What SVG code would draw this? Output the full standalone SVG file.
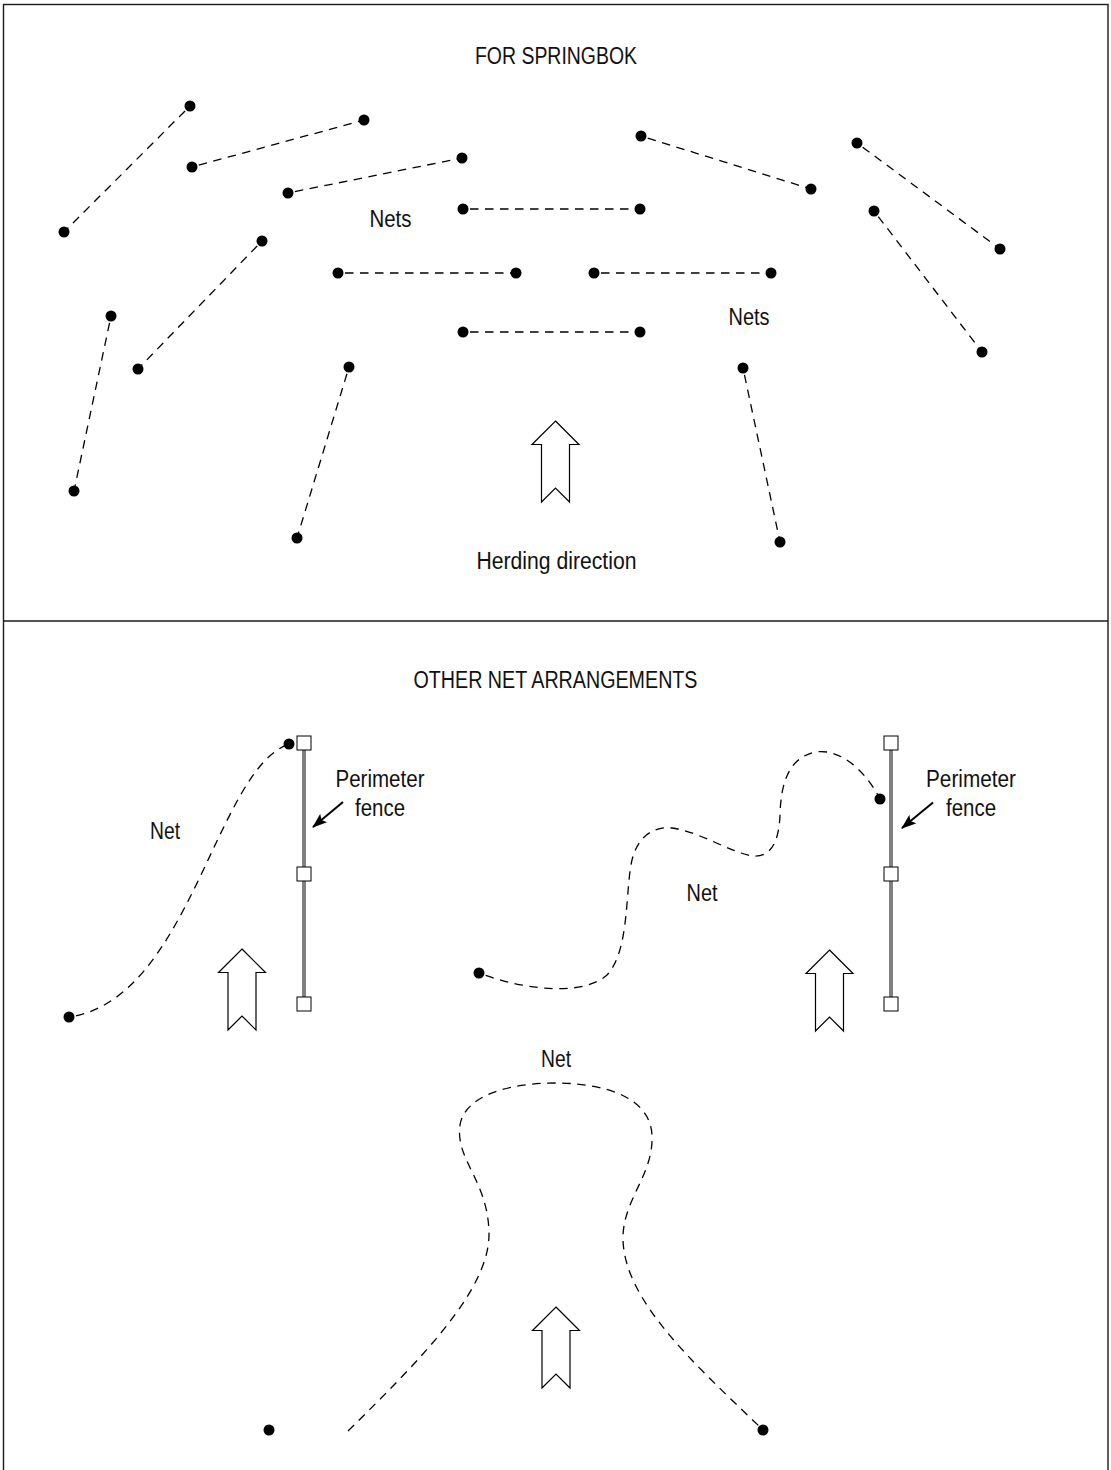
<svg xmlns="http://www.w3.org/2000/svg" width="1111" height="1470" viewBox="0 0 1111 1470">
<style>
.frame{fill:none;stroke:#1a1a1a;stroke-width:1.4}
.net{fill:none;stroke:#000;stroke-width:1.3;stroke-dasharray:8.5 6.5;stroke-dashoffset:-7}
.dot{fill:#000}
.lbl{font-family:"Liberation Sans Narrow","Liberation Sans",Arial,sans-serif;font-size:23px;fill:#111;text-anchor:middle}
.herd{fill:#fff;stroke:#000;stroke-width:1.2;stroke-linejoin:miter}
.fence{stroke:#808080;stroke-width:4}
.post{fill:#fff;stroke:#000;stroke-width:1}
.ptr{stroke:#000;stroke-width:2;fill:none}
</style>
<defs>
<path id="herdArrow" class="herd" d="M0,0 L23.5,23.5 L14,23.5 L14,81 L0,67 L-14,81 L-14,23.5 L-23.5,23.5 Z"/>
<marker id="ahBig" viewBox="0 0 15 11" refX="14" refY="5.5" markerWidth="15" markerHeight="11" orient="auto" markerUnits="userSpaceOnUse">
<path d="M0,0 L15,5.5 L0,11 L3,5.5 Z" fill="#000"/>
</marker>
</defs>

<rect id="frame" class="frame" x="3.5" y="4.5" width="1104.5" height="1475"/>
<line id="divider" class="frame" x1="3.5" y1="621" x2="1108" y2="621"/>

<g id="connectors">
<line class="net" x1="190" y1="106" x2="64" y2="232"/>
<line class="net" x1="192" y1="167" x2="364" y2="120"/>
<line class="net" x1="288" y1="193" x2="462" y2="158"/>
<line class="net" x1="463" y1="209" x2="640" y2="209"/>
<line class="net" x1="338" y1="273" x2="516" y2="273"/>
<line class="net" x1="594" y1="273" x2="771" y2="273"/>
<line class="net" x1="463" y1="332" x2="640" y2="332"/>
<line class="net" x1="262" y1="241" x2="138" y2="369"/>
<line class="net" x1="111" y1="316" x2="74" y2="491"/>
<line class="net" x1="349" y1="367" x2="297" y2="538"/>
<line class="net" x1="641" y1="136" x2="811" y2="189"/>
<line class="net" x1="857" y1="143" x2="1000" y2="249"/>
<line class="net" x1="874" y1="211" x2="982" y2="352"/>
<line class="net" x1="743" y1="368" x2="780" y2="542"/>
<path class="net" d="M69,1017 C190,1000 215,770 289,744"/>
<path class="net" d="M479,973 C530,992 585,995 607,975 C630,950 625,890 632,860 C638,835 655,826 672,828 C700,832 730,852 752,856 C772,858 779,840 780,815 C781,780 790,758 815,752 C840,748 865,770 880,799"/>
<path class="net" d="M348,1431 C420,1360 490,1290 489,1233 C488,1180 455,1160 460,1125 C465,1095 510,1083 555,1083 C600,1083 650,1095 652,1135 C654,1175 622,1200 623,1240 C625,1300 690,1360 760,1427" style="stroke-dashoffset:0"/>
<line class="ptr" x1="343" y1="802" x2="313" y2="827" marker-end="url(#ahBig)"/>
<line class="ptr" x1="933" y1="802.5" x2="902" y2="828" marker-end="url(#ahBig)"/>
</g>

<g id="dots">
<circle class="dot" cx="190" cy="106" r="5.5"/>
<circle class="dot" cx="64" cy="232" r="5.5"/>
<circle class="dot" cx="192" cy="167" r="5.5"/>
<circle class="dot" cx="364" cy="120" r="5.5"/>
<circle class="dot" cx="288" cy="193" r="5.5"/>
<circle class="dot" cx="462" cy="158" r="5.5"/>
<circle class="dot" cx="463" cy="209" r="5.5"/>
<circle class="dot" cx="640" cy="209" r="5.5"/>
<circle class="dot" cx="338" cy="273" r="5.5"/>
<circle class="dot" cx="516" cy="273" r="5.5"/>
<circle class="dot" cx="594" cy="273" r="5.5"/>
<circle class="dot" cx="771" cy="273" r="5.5"/>
<circle class="dot" cx="463" cy="332" r="5.5"/>
<circle class="dot" cx="640" cy="332" r="5.5"/>
<circle class="dot" cx="262" cy="241" r="5.5"/>
<circle class="dot" cx="138" cy="369" r="5.5"/>
<circle class="dot" cx="111" cy="316" r="5.5"/>
<circle class="dot" cx="74" cy="491" r="5.5"/>
<circle class="dot" cx="349" cy="367" r="5.5"/>
<circle class="dot" cx="297" cy="538" r="5.5"/>
<circle class="dot" cx="641" cy="136" r="5.5"/>
<circle class="dot" cx="811" cy="189" r="5.5"/>
<circle class="dot" cx="857" cy="143" r="5.5"/>
<circle class="dot" cx="1000" cy="249" r="5.5"/>
<circle class="dot" cx="874" cy="211" r="5.5"/>
<circle class="dot" cx="982" cy="352" r="5.5"/>
<circle class="dot" cx="743" cy="368" r="5.5"/>
<circle class="dot" cx="780" cy="542" r="5.5"/>
<circle class="dot" cx="69" cy="1017" r="5.5"/>
<circle class="dot" cx="289" cy="744" r="5.5"/>
<circle class="dot" cx="479" cy="973" r="5.5"/>
<circle class="dot" cx="880" cy="799" r="5.5"/>
<circle class="dot" cx="269" cy="1430" r="5.5"/>
<circle class="dot" cx="763" cy="1430" r="5.5"/>
</g>

<g id="fence-left">
<line class="fence" x1="304" y1="743" x2="304" y2="1004"/>
<rect class="post" x="297" y="736" width="14" height="14"/>
<rect class="post" x="297" y="867" width="14" height="14"/>
<rect class="post" x="297" y="997" width="14" height="14"/>
</g>
<g id="fence-right">
<line class="fence" x1="891" y1="743" x2="891" y2="1004"/>
<rect class="post" x="884" y="736" width="14" height="14"/>
<rect class="post" x="884" y="867" width="14" height="14"/>
<rect class="post" x="884" y="997" width="14" height="14"/>
</g>

<g id="herding-arrows">
<use href="#herdArrow" x="555.5" y="421"/>
<use href="#herdArrow" x="242" y="949"/>
<use href="#herdArrow" x="829.5" y="950"/>
<use href="#herdArrow" x="556" y="1307"/>
</g>

<g id="labels">
<text class="lbl" x="556" y="64" textLength="162" lengthAdjust="spacingAndGlyphs">FOR SPRINGBOK</text>
<text class="lbl" x="390.5" y="227" textLength="42" lengthAdjust="spacingAndGlyphs">Nets</text>
<text class="lbl" x="749" y="325" textLength="41" lengthAdjust="spacingAndGlyphs">Nets</text>
<text class="lbl" x="556.5" y="569" textLength="160" lengthAdjust="spacingAndGlyphs">Herding direction</text>
<text class="lbl" x="555.5" y="688" textLength="284" lengthAdjust="spacingAndGlyphs">OTHER NET ARRANGEMENTS</text>
<text class="lbl" x="380" y="787" textLength="89" lengthAdjust="spacingAndGlyphs">Perimeter</text>
<text class="lbl" x="380" y="816" textLength="50" lengthAdjust="spacingAndGlyphs">fence</text>
<text class="lbl" x="971" y="787" textLength="90" lengthAdjust="spacingAndGlyphs">Perimeter</text>
<text class="lbl" x="971" y="816" textLength="50" lengthAdjust="spacingAndGlyphs">fence</text>
<text class="lbl" x="165" y="839" textLength="30" lengthAdjust="spacingAndGlyphs">Net</text>
<text class="lbl" x="702" y="901" textLength="31" lengthAdjust="spacingAndGlyphs">Net</text>
<text class="lbl" x="556" y="1067" textLength="30" lengthAdjust="spacingAndGlyphs">Net</text>
</g>
</svg>
